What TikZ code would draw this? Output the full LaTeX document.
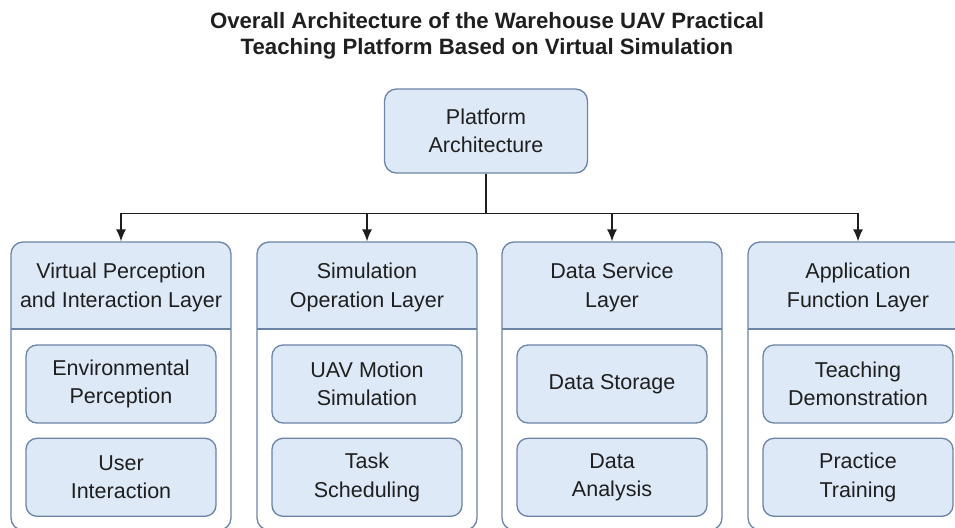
\documentclass[tikz,border=0pt]{standalone}
\usepackage{fontspec}
\setmainfont{Liberation Sans}
\usepackage{tikz}
\usetikzlibrary{positioning}
\usetikzlibrary{arrows.meta}
\usetikzlibrary{calc}
\definecolor{boxfill}{RGB}{221,233,246}
\definecolor{boxline}{RGB}{108,132,166}
\definecolor{connline}{RGB}{30,30,30}

\begin{document}
\begin{tikzpicture}[x=1pt, y=1pt,
				every text node part/.style={align=center},
				every node/.style={font=\fontsize{21.5}{28.5}\selectfont, text=black!88},
				internal/.style={draw=boxline, fill=boxfill, line width=1.3pt, rounded corners=12pt, inner sep=0pt},
				module/.style={internal, rounded corners=11pt, minimum width=190pt, minimum height=78pt},
				layer/.style={draw=boxline, fill=white, line width=1.3pt, rounded corners=12pt, inner sep=0pt,
					minimum width=220pt, minimum height=288pt,
					path picture={
						\fill[boxfill, sharp corners] (path picture bounding box.north west) rectangle ([yshift=-87pt]path picture bounding box.north east);
						\draw[boxline, sharp corners, line width=1.3pt] ([yshift=-87pt]path picture bounding box.north west) -- ([yshift=-87pt]path picture bounding box.north east);}},
				conn/.style={draw=connline, line width=1.3pt, -{Latex[length=12pt, width=10pt]}}]
				\useasboundingbox (0,0) rectangle (955,-527);
				\clip (0,0) rectangle (955,-527);
				
				\node[font=\bfseries\fontsize{22.2}{26}\selectfont](title) at (487,-36) {Overall Architecture of the Warehouse UAV Practical\\Teaching Platform Based on Virtual Simulation};
				
				\node[internal, minimum width=203pt, minimum height=84pt](node1) at (486,-131) {Platform\\Architecture};
				
				\node[layer](layer1) at (121,-386) {};
				\node[layer](layer2) at (367,-386) {};
				\node[layer](layer3) at (612,-386) {};
				\node[layer](layer4) at (858,-386) {};
				
				\node(head1) at ([yshift=-46pt]layer1.north) {Virtual Perception\\and Interaction Layer};
				\node(head2) at ([yshift=-46pt]layer2.north) {Simulation\\Operation Layer};
				\node(head3) at ([yshift=-46pt]layer3.north) {Data Service\\Layer};
				\node(head4) at ([yshift=-46pt]layer4.north) {Application\\Function Layer};
				
				\node[module, below=103pt of layer1.north](mod11) {Environmental\\Perception};
				\node[module, below=14pt of mod11](mod12) {User\\Interaction};
				\node[module, below=103pt of layer2.north](mod21) {UAV Motion\\Simulation};
				\node[module, below=14pt of mod21](mod22) {Task\\Scheduling};
				\node[module, below=103pt of layer3.north](mod31) {Data Storage};
				\node[module, below=14pt of mod31](mod32) {Data\\Analysis};
				\node[module, below=103pt of layer4.north](mod41) {Teaching\\Demonstration};
				\node[module, below=14pt of mod41](mod42) {Practice\\Training};
				
				\draw[conn] (node1.south) -- ++(0,-40) -| (layer1.north);
				\draw[conn] (node1.south) -- ++(0,-40) -| (layer2.north);
				\draw[conn] (node1.south) -- ++(0,-40) -| (layer3.north);
				\draw[conn] (node1.south) -- ++(0,-40) -| (layer4.north);
			\end{tikzpicture}
\end{document}
